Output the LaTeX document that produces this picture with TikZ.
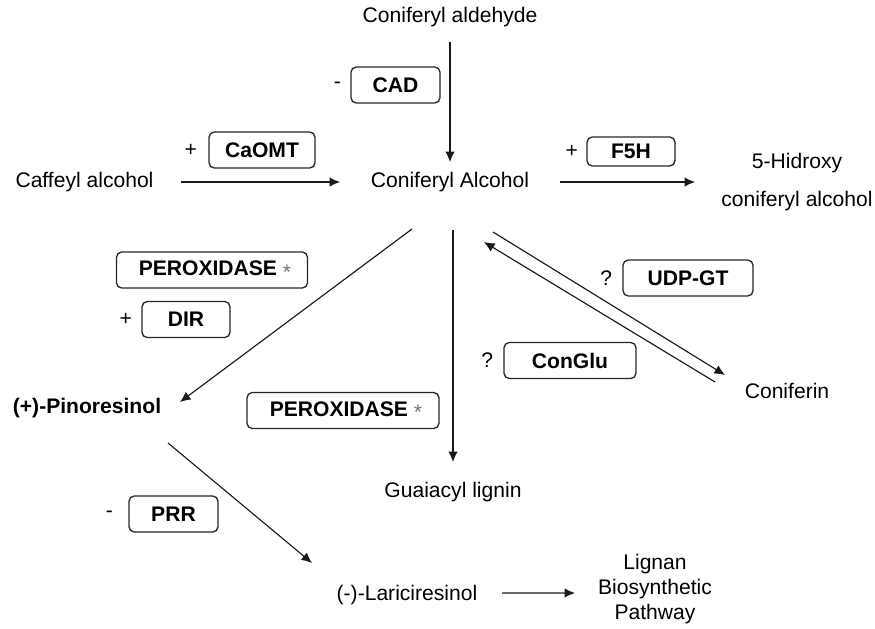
\documentclass[tikz,border=0pt]{standalone}
\usepackage{fontspec}
\setmainfont{Liberation Sans}
\usepackage{xcolor}
\usetikzlibrary{arrows.meta,positioning,calc}

\begin{document}
\begin{tikzpicture}[
  font=\fontsize{12}{14.4}\selectfont,
  >={Latex[length=2.1mm,width=1.9mm]},
  cpd/.style={inner sep=2pt, align=center},
  enzyme/.style={draw=black!85, line width=0.75pt, rounded corners=3pt,
                 minimum height=0.72cm, inner xsep=3pt, inner ysep=2pt,
                 font=\fontsize{12}{14.4}\selectfont\bfseries},
  sign/.style={inner sep=0pt},
  rxn/.style={->, line width=0.65pt, black!90},
]
\useasboundingbox (0,0) rectangle (17.5,-12.56);

% ── compounds ───────────────────────────────────────────────────────────────
\node[cpd] (cald)  at (9.00,-0.34)  {Coniferyl aldehyde};
\node[cpd] (calc)  at (9.00,-3.64)  {Coniferyl Alcohol};
\node[cpd] (caff)  at (1.69,-3.64)  {Caffeyl alcohol};
\node[cpd, font=\fontsize{12}{21.6}\selectfont] (hydr) at (15.94,-3.64)
  {5-Hidroxy\\coniferyl alcohol};
\node[cpd, font=\fontsize{12}{14.4}\selectfont\bfseries] (pino)
  at (1.74,-8.16) {(+)-Pinoresinol};
\node[cpd] (guai)  at (9.06,-9.84)  {Guaiacyl lignin};
\node[cpd] (conif) at (15.74,-7.82) {Coniferin};
\node[cpd] (lari)  at (8.14,-11.90) {(-)-Lariciresinol};
\node[cpd, font=\fontsize{12}{14.2}\selectfont] (lign) at (13.10,-11.78)
  {Lignan\\Biosynthetic\\Pathway};

% ── enzymes ─────────────────────────────────────────────────────────────────
\node[enzyme, minimum width=1.78cm] (cad)    at (7.91,-1.70)  {CAD};
\node[enzyme, minimum width=2.12cm] (caomt)  at (5.24,-3.00)  {CaOMT};
\node[enzyme, minimum width=1.76cm, minimum height=0.58cm] (f5h)
  at (12.62,-3.03) {F5H};
\node[enzyme, minimum width=3.82cm] (perox1) at (4.24,-5.40)
  {\ PEROXIDASE\ {\mdseries\textcolor{black!55}{\raisebox{-2pt}{*}}}};
\node[enzyme, minimum width=1.76cm] (dir)    at (3.72,-6.39)  {DIR};
\node[enzyme, minimum width=3.84cm] (perox2) at (6.86,-8.21)
  {\ PEROXIDASE\ {\mdseries\textcolor{black!55}{\raisebox{-2pt}{*}}}};
\node[enzyme, minimum width=2.64cm] (conglu) at (11.40,-7.21) {ConGlu};
\node[enzyme, minimum width=2.60cm] (udpgt)  at (13.76,-5.56) {UDP-GT};
\node[enzyme, minimum width=1.78cm] (prr)    at (3.47,-10.28) {PRR};

% up / down regulation marks
\node[sign, left=0.18cm of cad]    (scad)    {-};
\node[sign, left=0.22cm of caomt]  (scaomt)  {+};
\node[sign, left=0.16cm of f5h]    (sf5h)    {+};
\node[sign, left=0.18cm of dir]    (sdir)    {+};
\node[sign, left=0.2cm of conglu]  (sconglu) {?};
\node[sign, left=0.2cm of udpgt]   (sudpgt)  {?};
\node[sign, left=0.3cm of prr]     (sprr)    {-};

% ── reactions ───────────────────────────────────────────────────────────────
\draw[rxn] ($(cald)+(0,-0.5)$) -- ($(calc)+(0,0.4)$);
\draw[rxn] ($(caff)+(1.92,0)$) -- ($(calc)+(-2.2,0)$);
\draw[rxn] ($(calc)+(2.2,0)$) -- ($(hydr)+(-2.04,0)$);
\draw[rxn] ($(calc)+(-0.76,-0.94)$) -- ($(pino)+(1.86,0.12)$);
\draw[rxn] ($(calc)+(0.06,-0.96)$) -- ($(guai)+(0,0.6)$);
% glucosylation and back
\draw[rxn] ($(calc)+(0.86,-1.00)$) -- ($(conif)+(-1.24,0.32)$);
\draw[rxn] ($(conif)+(-1.44,0.18)$) -- ($(calc)+(0.68,-1.20)$);
% towards lignans
\draw[rxn] ($(pino)+(1.62,-0.70)$) -- ($(lari)+(-1.90,0.64)$);
\draw[rxn] ($(lari)+(1.90,0.04)$) -- ($(lign)+(-1.60,-0.08)$);
\end{tikzpicture}
\end{document}
